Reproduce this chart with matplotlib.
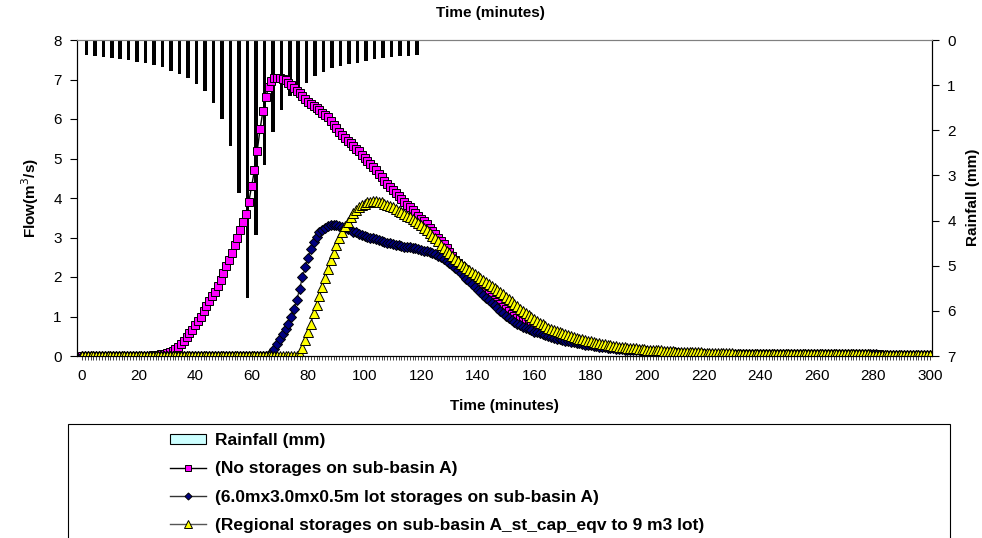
import matplotlib
matplotlib.use("Agg")
import numpy as np
import matplotlib.pyplot as plt
from matplotlib.patches import Patch, Rectangle
from matplotlib.lines import Line2D

plt.rcParams["font.family"] = ["Liberation Sans", "DejaVu Sans"]

# rainfall hyetograph, 3-minute blocks (mm), time = end of block
rain_time = [3, 6, 9, 12, 15, 18, 21, 24, 27, 30,
             33, 36, 39, 42, 45, 48, 51, 54, 57, 60,
             63, 66, 69, 72, 75, 78, 81, 84, 87, 90,
             93, 96, 99, 102, 105, 108, 111, 114, 117, 120]
rain_mm = [0.33, 0.36, 0.37, 0.39, 0.41, 0.45, 0.48, 0.51, 0.55, 0.60,
           0.68, 0.75, 0.85, 0.97, 1.13, 1.40, 1.74, 2.35, 3.38, 5.72,
           4.32, 2.78, 2.03, 1.55, 1.25, 1.06, 0.95, 0.80, 0.70, 0.63,
           0.58, 0.53, 0.50, 0.46, 0.43, 0.40, 0.37, 0.35, 0.35, 0.33]

# hydrograph ordinates, one per minute from 0 to 300 (m3/s)
time_min = np.arange(0, 301)

flow_no_storage = [
    0, 0, 0, 0, 0, 0, 0, 0, 0, 0,
    0, 0, 0, 0, 0, 0, 0, 0, 0, 0,
    0, 0, 0, 0, 0.01, 0.02, 0.02, 0.03, 0.04, 0.05,
    0.07, 0.10, 0.13, 0.18, 0.24, 0.31, 0.38, 0.47, 0.57, 0.67,
    0.78, 0.89, 1.00, 1.13, 1.26, 1.38, 1.51, 1.63, 1.77, 1.92,
    2.10, 2.27, 2.43, 2.62, 2.80, 2.98, 3.20, 3.40, 3.60, 3.90,
    4.30, 4.70, 5.20, 5.75, 6.20, 6.55, 6.80, 6.95, 7.03, 7.05,
    7.05, 7.02, 6.98, 6.92, 6.86, 6.78, 6.72, 6.65, 6.58, 6.50,
    6.44, 6.38, 6.33, 6.28, 6.22, 6.16, 6.10, 6.04, 5.96, 5.86,
    5.76, 5.68, 5.60, 5.52, 5.45, 5.39, 5.32, 5.25, 5.18, 5.10,
    5.02, 4.94, 4.86, 4.79, 4.70, 4.62, 4.53, 4.44, 4.36, 4.28,
    4.20, 4.12, 4.05, 3.98, 3.90, 3.83, 3.76, 3.69, 3.62, 3.55,
    3.48, 3.41, 3.33, 3.25, 3.17, 3.09, 3.00, 2.92, 2.83, 2.73,
    2.63, 2.53, 2.44, 2.35, 2.27, 2.19, 2.11, 2.04, 1.97, 1.90,
    1.83, 1.76, 1.70, 1.63, 1.56, 1.50, 1.43, 1.37, 1.31, 1.25,
    1.19, 1.13, 1.07, 1.02, 0.97, 0.93, 0.89, 0.85, 0.81, 0.78,
    0.75, 0.72, 0.69, 0.66, 0.63, 0.60, 0.58, 0.55, 0.53, 0.51,
    0.49, 0.47, 0.45, 0.43, 0.41, 0.39, 0.37, 0.35, 0.33, 0.32,
    0.30, 0.29, 0.27, 0.26, 0.25, 0.24, 0.23, 0.22, 0.21, 0.20,
    0.19, 0.18, 0.17, 0.17, 0.16, 0.15, 0.15, 0.14, 0.14, 0.13,
    0.13, 0.12, 0.12, 0.11, 0.11, 0.10, 0.10, 0.10, 0.09, 0.09,
    0.09, 0.08, 0.08, 0.08, 0.08, 0.07, 0.07, 0.07, 0.07, 0.07,
    0.06, 0.06, 0.06, 0.06, 0.06, 0.06, 0.06, 0.06, 0.06, 0.06,
    0.06, 0.06, 0.06, 0.06, 0.06, 0.05, 0.05, 0.05, 0.05, 0.05,
    0.05, 0.05, 0.05, 0.05, 0.05, 0.05, 0.05, 0.05, 0.05, 0.05,
    0.05, 0.05, 0.05, 0.04, 0.04, 0.04, 0.04, 0.04, 0.04, 0.04,
    0.04, 0.04, 0.04, 0.04, 0.04, 0.04, 0.04, 0.04, 0.04, 0.04,
    0.04, 0.04, 0.04, 0.04, 0.04, 0.04, 0.04, 0.04, 0.04, 0.04,
    0.04, 0.04, 0.04, 0.03, 0.03, 0.03, 0.03, 0.03, 0.03, 0.03,
    0.03, 0.03, 0.03, 0.03, 0.03, 0.03, 0.03, 0.03, 0.03, 0.03,
    0.03,
]

flow_lot_storage = [
    0, 0, 0, 0, 0, 0, 0, 0, 0, 0,
    0, 0, 0, 0, 0, 0, 0, 0, 0, 0,
    0, 0, 0, 0, 0, 0, 0, 0, 0, 0,
    0, 0, 0, 0, 0, 0, 0, 0, 0, 0,
    0, 0, 0, 0, 0, 0, 0, 0, 0, 0,
    0, 0, 0, 0, 0, 0, 0, 0, 0, 0,
    0, 0, 0, 0, 0, 0, 0.02, 0.08, 0.18, 0.30,
    0.42, 0.55, 0.68, 0.82, 0.98, 1.20, 1.42, 1.70, 2.00, 2.25,
    2.48, 2.70, 2.88, 3.02, 3.13, 3.20, 3.25, 3.28, 3.31, 3.32,
    3.32, 3.30, 3.27, 3.24, 3.21, 3.18, 3.15, 3.13, 3.10, 3.07,
    3.05, 3.02, 3.00, 2.98, 2.95, 2.93, 2.91, 2.89, 2.87, 2.86,
    2.84, 2.82, 2.80, 2.79, 2.77, 2.76, 2.75, 2.74, 2.73, 2.71,
    2.69, 2.67, 2.65, 2.63, 2.60, 2.57, 2.54, 2.50, 2.46, 2.41,
    2.36, 2.30, 2.24, 2.17, 2.10, 2.03, 1.96, 1.89, 1.82, 1.75,
    1.68, 1.61, 1.55, 1.48, 1.42, 1.35, 1.28, 1.21, 1.14, 1.08,
    1.02, 0.97, 0.92, 0.87, 0.82, 0.78, 0.74, 0.71, 0.68, 0.65,
    0.62, 0.60, 0.57, 0.55, 0.52, 0.50, 0.48, 0.46, 0.44, 0.42,
    0.41, 0.39, 0.38, 0.36, 0.35, 0.33, 0.32, 0.31, 0.29, 0.28,
    0.27, 0.26, 0.25, 0.24, 0.23, 0.22, 0.21, 0.20, 0.19, 0.18,
    0.18, 0.17, 0.16, 0.16, 0.15, 0.15, 0.14, 0.14, 0.13, 0.13,
    0.12, 0.12, 0.11, 0.11, 0.11, 0.10, 0.10, 0.10, 0.09, 0.09,
    0.09, 0.08, 0.08, 0.08, 0.08, 0.07, 0.07, 0.07, 0.07, 0.07,
    0.06, 0.06, 0.06, 0.06, 0.06, 0.06, 0.06, 0.06, 0.06, 0.06,
    0.06, 0.06, 0.05, 0.05, 0.05, 0.05, 0.05, 0.05, 0.05, 0.05,
    0.05, 0.05, 0.05, 0.05, 0.05, 0.05, 0.05, 0.05, 0.05, 0.05,
    0.05, 0.05, 0.04, 0.04, 0.04, 0.04, 0.04, 0.04, 0.04, 0.04,
    0.04, 0.04, 0.04, 0.04, 0.04, 0.04, 0.04, 0.04, 0.04, 0.04,
    0.04, 0.04, 0.04, 0.04, 0.04, 0.04, 0.04, 0.04, 0.04, 0.04,
    0.04, 0.04, 0.03, 0.03, 0.03, 0.03, 0.03, 0.03, 0.03, 0.03,
    0.03, 0.03, 0.03, 0.03, 0.03, 0.03, 0.03, 0.03, 0.03, 0.03,
    0.03,
]

flow_regional_storage = [
    0, 0, 0, 0, 0, 0, 0, 0, 0, 0,
    0, 0, 0, 0, 0, 0, 0, 0, 0, 0,
    0, 0, 0, 0, 0, 0, 0, 0, 0, 0,
    0, 0, 0, 0, 0, 0, 0, 0, 0, 0,
    0, 0, 0, 0, 0, 0, 0, 0, 0, 0,
    0, 0, 0, 0, 0, 0, 0, 0, 0, 0,
    0, 0, 0, 0, 0, 0, 0, 0, 0, 0,
    0, 0, 0, 0, 0, 0, 0, 0.04, 0.20, 0.40,
    0.60, 0.82, 1.08, 1.30, 1.52, 1.75, 1.98, 2.20, 2.42, 2.62,
    2.82, 3.00, 3.15, 3.28, 3.40, 3.52, 3.62, 3.70, 3.77, 3.82,
    3.86, 3.89, 3.91, 3.92, 3.92, 3.91, 3.89, 3.86, 3.83, 3.80,
    3.76, 3.72, 3.68, 3.64, 3.60, 3.55, 3.51, 3.46, 3.41, 3.36,
    3.31, 3.25, 3.19, 3.12, 3.05, 2.98, 2.90, 2.82, 2.74, 2.67,
    2.60, 2.53, 2.46, 2.40, 2.34, 2.28, 2.23, 2.18, 2.13, 2.08,
    2.03, 1.98, 1.93, 1.88, 1.83, 1.78, 1.72, 1.67, 1.61, 1.56,
    1.50, 1.44, 1.38, 1.32, 1.26, 1.20, 1.14, 1.09, 1.03, 0.98,
    0.93, 0.89, 0.84, 0.80, 0.76, 0.72, 0.69, 0.66, 0.63, 0.60,
    0.57, 0.55, 0.52, 0.50, 0.48, 0.46, 0.44, 0.42, 0.40, 0.38,
    0.37, 0.35, 0.34, 0.32, 0.31, 0.30, 0.28, 0.27, 0.26, 0.25,
    0.24, 0.23, 0.22, 0.21, 0.21, 0.20, 0.19, 0.18, 0.18, 0.17,
    0.16, 0.16, 0.15, 0.15, 0.14, 0.14, 0.13, 0.13, 0.12, 0.12,
    0.11, 0.11, 0.11, 0.10, 0.10, 0.10, 0.09, 0.09, 0.09, 0.09,
    0.08, 0.08, 0.08, 0.08, 0.08, 0.07, 0.07, 0.07, 0.07, 0.07,
    0.07, 0.06, 0.06, 0.06, 0.06, 0.06, 0.06, 0.06, 0.06, 0.06,
    0.06, 0.06, 0.06, 0.05, 0.05, 0.05, 0.05, 0.05, 0.05, 0.05,
    0.05, 0.05, 0.05, 0.05, 0.05, 0.05, 0.05, 0.05, 0.05, 0.04,
    0.04, 0.04, 0.04, 0.04, 0.04, 0.04, 0.04, 0.04, 0.04, 0.04,
    0.04, 0.04, 0.04, 0.04, 0.04, 0.04, 0.04, 0.04, 0.04, 0.03,
    0.03, 0.03, 0.03, 0.03, 0.03, 0.03, 0.03, 0.03, 0.03, 0.03,
    0.03, 0.03, 0.03, 0.03, 0.03, 0.02, 0.02, 0.02, 0.02, 0.02,
    0.02,
]

series = [
    ("(No storages on sub-basin A)", flow_no_storage, "s", "#FF00FF", "#000000", 6.3),
    ("(6.0mx3.0mx0.5m lot storages on sub-basin A)", flow_lot_storage, "D", "#000080", "#333333", 4.8),
    ("(Regional storages on sub-basin A_st_cap_eqv to 9 m3 lot)", flow_regional_storage, "^", "#FFFF00", "#555555", 6.8),
]

fig = plt.figure(figsize=(9.82, 5.38), dpi=100)
ax = fig.add_axes([77 / 982, 1 - 356 / 538, 855 / 982, 316 / 538])
ax2 = ax.twinx()

# rainfall hangs from the top on an inverted secondary axis,
# each bar placed at the middle of its 3-minute block
rain_mid = np.array(rain_time) - 1.5
ax2.bar(rain_mid, rain_mm, width=1.25, color="black", align="center")
ax2.set_ylim(7, 0)
ax2.set_yticks(range(0, 8))
ax2.tick_params(axis="y", direction="out", length=5, labelsize=11, pad=6)

# flow lines sit above the bars
ax.set_zorder(ax2.get_zorder() + 1)
ax.patch.set_visible(False)

for label, flow, mk, fc, lc, ms in series:
    ax.plot(time_min, flow, color=lc, lw=1.0, marker=mk, ms=ms,
            mfc=fc, mec="black", mew=0.7, label=label)

ax.set_xlim(-1.8, 300.8)
ax.set_ylim(0, 8)
ax.set_yticks(range(0, 9))
ax.set_xticks(range(0, 301, 20))
ax.set_xticks(range(0, 301, 1), minor=True)
ax.tick_params(axis="x", which="both", direction="out", length=3, width=0.7,
               color="#444444", labelsize=11, pad=6)
ax.tick_params(axis="y", direction="out", length=5, labelsize=11, pad=6)

for s in ("left", "bottom"):
    ax.spines[s].set_color("black")
ax.spines["top"].set_color("#808080")
ax2.spines["top"].set_color("#808080")
ax2.spines["right"].set_color("black")

ax.set_xlabel("Time (minutes)", fontsize=11, fontweight="bold", labelpad=12)
ax.set_ylabel("Flow(m$^3$/s)", fontsize=11, fontweight="bold", labelpad=9)
fig.text(490 / 982, 1 - 13 / 538, "Time (minutes)", ha="center", va="center",
         fontsize=11, fontweight="bold")
fig.text(973 / 982, 1 - 197 / 538, "Rainfall (mm)", ha="center", va="center",
         rotation=90, fontsize=11, fontweight="bold")

# legend panel under the chart
fig.patches.append(Rectangle((68 / 982, -0.05), 882 / 982, 1 - 424 / 538 + 0.05,
                             transform=fig.transFigure, fill=False,
                             edgecolor="black", lw=0.8))
handles = [Patch(facecolor="#CCFFFF", edgecolor="black", lw=0.8)]
for label, flow, mk, fc, lc, ms in series:
    handles.append(Line2D([], [], color=lc, lw=1.0, marker=mk, ms=ms * 0.75,
                          mfc=fc, mec="black", mew=0.7))
labels = ["Rainfall (mm)"] + [s[0] for s in series]
fig.legend(handles, labels, loc="upper left",
           bbox_to_anchor=(170 / 982, 1 - 433 / 538), frameon=False,
           prop={"weight": "bold", "size": 12.5}, handlelength=2.1,
           handleheight=0.55, handletextpad=0.5, labelspacing=0.77,
           borderpad=0, borderaxespad=0)

fig.savefig("out.png", dpi=100)
